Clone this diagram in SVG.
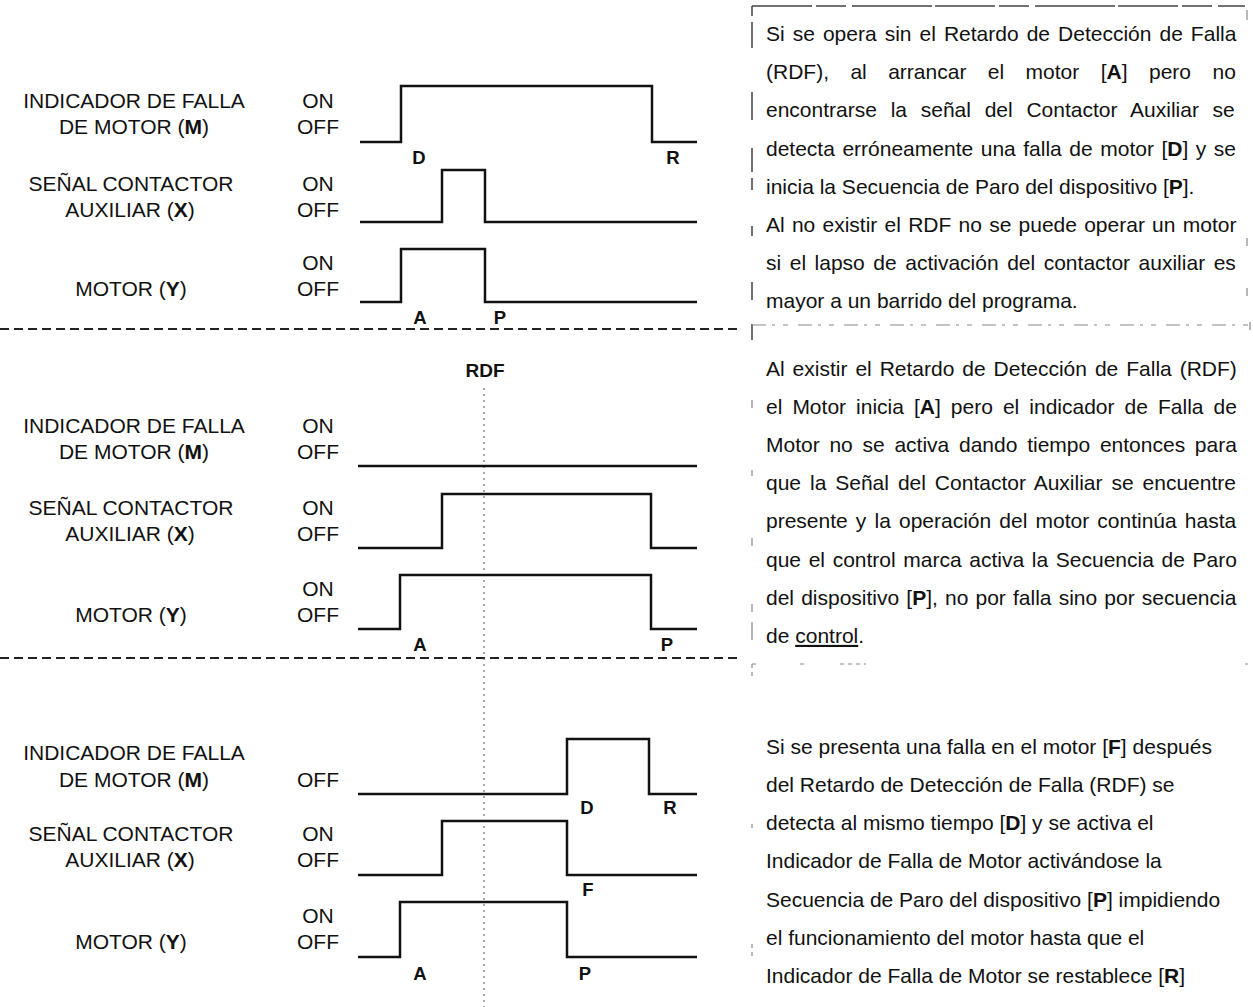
<svg xmlns="http://www.w3.org/2000/svg" width="1253" height="1007" viewBox="0 0 1253 1007">
<style>
text{font-family:"Liberation Sans",Arial,sans-serif;fill:#111}
.lbl{font-size:21px;text-anchor:middle}
.mk{font-size:18.5px;font-weight:bold;text-anchor:middle}
.tt{font-size:19px;font-weight:bold;text-anchor:middle}
.body{font-size:21px}
.b{font-weight:bold}
.wave{fill:none;stroke:#111;stroke-width:2.5;stroke-linejoin:miter;stroke-linecap:butt}
.sep{stroke:#222;stroke-width:2;stroke-dasharray:9 5;fill:none}
.vdot{stroke:#555;stroke-width:1;stroke-dasharray:2 4;fill:none}
.box{stroke:#444;stroke-width:1.5;fill:none}
.faint{stroke:#888;stroke-width:1.2;fill:none}
</style>
<rect width="1253" height="1007" fill="#fff"/>

<g id="connectors">
  <line class="sep" x1="0" y1="329" x2="742" y2="329"/>
  <line class="sep" x1="0" y1="658" x2="742" y2="658"/>
  <line class="vdot" x1="484" y1="388" x2="484" y2="1007"/>
  <path class="box" d="M752 6 H1245 M752 6 V16 M752 22 V48 M752 92 V120 M752 148 V172 M752 178 V190 M752 226 V236 M752 282 V300 M752 324 V340" stroke-dasharray="60 4 30 6 80 3"/>
  <path class="faint" d="M752 325 H1250" stroke-dasharray="14 6 3 8 5 10"/>
  <path class="faint" d="M1247 10 V20 M1247 238 V246 M1247 288 V296 M1250 322 V330 M752 400 V408 M752 470 V476 M752 538 V546 M752 604 V612 M752 622 V640"/>
  <path class="faint" d="M752 664 H760 M800 664 H806 M840 664 H866 M1245 664 H1248 M752 664 V676 M752 824 V830 M752 944 V956" stroke-dasharray="4 4"/>
</g>

<g id="section1">
  <g id="s1-motor-fault">
    <text class="lbl" x="134" y="107.5">INDICADOR DE FALLA</text>
    <text class="lbl" x="134" y="133.5">DE MOTOR (<tspan class="b">M</tspan>)</text>
    <text class="lbl" x="318" y="107.5">ON</text>
    <text class="lbl" x="318" y="133.5">OFF</text>
    <path class="wave" d="M360 142 H401 V86 H652 V142 H697"/>
    <text class="mk" x="419" y="164">D</text>
    <text class="mk" x="673" y="164">R</text>
  </g>
  <g id="s1-aux">
    <text class="lbl" x="131" y="190.5">SEÑAL CONTACTOR</text>
    <text class="lbl" x="130" y="216.5">AUXILIAR (<tspan class="b">X</tspan>)</text>
    <text class="lbl" x="318" y="190.5">ON</text>
    <text class="lbl" x="318" y="216.5">OFF</text>
    <path class="wave" d="M360 222 H442 V170 H485 V222 H697"/>
  </g>
  <g id="s1-motor">
    <text class="lbl" x="318" y="269.5">ON</text>
    <text class="lbl" x="131" y="295.5">MOTOR (<tspan class="b">Y</tspan>)</text>
    <text class="lbl" x="318" y="295.5">OFF</text>
    <path class="wave" d="M360 302 H401 V249 H485 V302 H697"/>
    <text class="mk" x="420" y="323.5">A</text>
    <text class="mk" x="500" y="323.5">P</text>
  </g>
</g>

<g id="section2">
  <text class="tt" x="485" y="377">RDF</text>
  <g id="s2-motor-fault">
    <text class="lbl" x="134" y="432.5">INDICADOR DE FALLA</text>
    <text class="lbl" x="134" y="458.5">DE MOTOR (<tspan class="b">M</tspan>)</text>
    <text class="lbl" x="318" y="432.5">ON</text>
    <text class="lbl" x="318" y="458.5">OFF</text>
    <path class="wave" d="M358 466 H697"/>
  </g>
  <g id="s2-aux">
    <text class="lbl" x="131" y="514.5">SEÑAL CONTACTOR</text>
    <text class="lbl" x="130" y="540.5">AUXILIAR (<tspan class="b">X</tspan>)</text>
    <text class="lbl" x="318" y="514.5">ON</text>
    <text class="lbl" x="318" y="540.5">OFF</text>
    <path class="wave" d="M358 548 H442 V494 H651 V548 H697"/>
  </g>
  <g id="s2-motor">
    <text class="lbl" x="318" y="595.5">ON</text>
    <text class="lbl" x="131" y="621.5">MOTOR (<tspan class="b">Y</tspan>)</text>
    <text class="lbl" x="318" y="621.5">OFF</text>
    <path class="wave" d="M358 629 H400 V575 H651 V629 H697"/>
    <text class="mk" x="420" y="651">A</text>
    <text class="mk" x="667" y="651">P</text>
  </g>
</g>

<g id="section3">
  <g id="s3-motor-fault">
    <text class="lbl" x="134" y="759.5">INDICADOR DE FALLA</text>
    <text class="lbl" x="134" y="786.5">DE MOTOR (<tspan class="b">M</tspan>)</text>
    <text class="lbl" x="318" y="786.5">OFF</text>
    <path class="wave" d="M358 794 H567 V739 H649 V794 H697"/>
    <text class="mk" x="587" y="814">D</text>
    <text class="mk" x="670" y="814">R</text>
  </g>
  <g id="s3-aux">
    <text class="lbl" x="131" y="841">SEÑAL CONTACTOR</text>
    <text class="lbl" x="130" y="867">AUXILIAR (<tspan class="b">X</tspan>)</text>
    <text class="lbl" x="318" y="841">ON</text>
    <text class="lbl" x="318" y="867">OFF</text>
    <path class="wave" d="M358 875 H442 V821 H567 V875 H697"/>
    <text class="mk" x="588" y="895.5">F</text>
  </g>
  <g id="s3-motor">
    <text class="lbl" x="318" y="923">ON</text>
    <text class="lbl" x="131" y="949">MOTOR (<tspan class="b">Y</tspan>)</text>
    <text class="lbl" x="318" y="949">OFF</text>
    <path class="wave" d="M358 957 H400 V902 H567 V957 H697"/>
    <text class="mk" x="420" y="980">A</text>
    <text class="mk" x="585" y="980">P</text>
  </g>
</g>

<g id="text-block-1">
  <text class="body" x="766" y="41" word-spacing="2.2">Si se opera sin el Retardo de Detección de Falla</text>
  <text class="body" x="766" y="79.2" word-spacing="15.6">(RDF), al arrancar el motor [<tspan class="b">A</tspan>] pero no</text>
  <text class="body" x="766" y="117.4" word-spacing="7.9">encontrarse la señal del Contactor Auxiliar se</text>
  <text class="body" x="766" y="155.6" word-spacing="1.7">detecta erróneamente una falla de motor [<tspan class="b">D</tspan>] y se</text>
  <text class="body" x="766" y="193.8">inicia la Secuencia de Paro del dispositivo [<tspan class="b">P</tspan>].</text>
  <text class="body" x="766" y="232" word-spacing="1.4">Al no existir el RDF no se puede operar un motor</text>
  <text class="body" x="766" y="270.2" word-spacing="2.7">si el lapso de activación del contactor auxiliar es</text>
  <text class="body" x="766" y="308.4">mayor a un barrido del programa.</text>
</g>

<g id="text-block-2">
  <text class="body" x="766" y="375.5" word-spacing="2.1">Al existir el Retardo de Detección de Falla (RDF)</text>
  <text class="body" x="766" y="413.7" word-spacing="4.2">el Motor inicia [<tspan class="b">A</tspan>] pero el indicador de Falla de</text>
  <text class="body" x="766" y="451.9" word-spacing="3.9">Motor no se activa dando tiempo entonces para</text>
  <text class="body" x="766" y="490.1" word-spacing="3.1">que la Señal del Contactor Auxiliar se encuentre</text>
  <text class="body" x="766" y="528.3" word-spacing="2.3">presente y la operación del motor continúa hasta</text>
  <text class="body" x="766" y="566.5" word-spacing="1.8">que el control marca activa la Secuencia de Paro</text>
  <text class="body" x="766" y="604.7" word-spacing="1.3">del dispositivo [<tspan class="b">P</tspan>], no por falla sino por secuencia</text>
  <text class="body" x="766" y="642.9">de <tspan text-decoration="underline">control</tspan>.</text>
</g>

<g id="text-block-3">
  <text class="body" x="766" y="753.5">Si se presenta una falla en el motor [<tspan class="b">F</tspan>] después</text>
  <text class="body" x="766" y="791.8">del Retardo de Detección de Falla (RDF) se</text>
  <text class="body" x="766" y="830.1">detecta al mismo tiempo [<tspan class="b">D</tspan>] y se activa el</text>
  <text class="body" x="766" y="868.4">Indicador de Falla de Motor activándose la</text>
  <text class="body" x="766" y="906.7">Secuencia de Paro del dispositivo [<tspan class="b">P</tspan>] impidiendo</text>
  <text class="body" x="766" y="945">el funcionamiento del motor hasta que el</text>
  <text class="body" x="766" y="983.3">Indicador de Falla de Motor se restablece [<tspan class="b">R</tspan>]</text>
</g>
</svg>
